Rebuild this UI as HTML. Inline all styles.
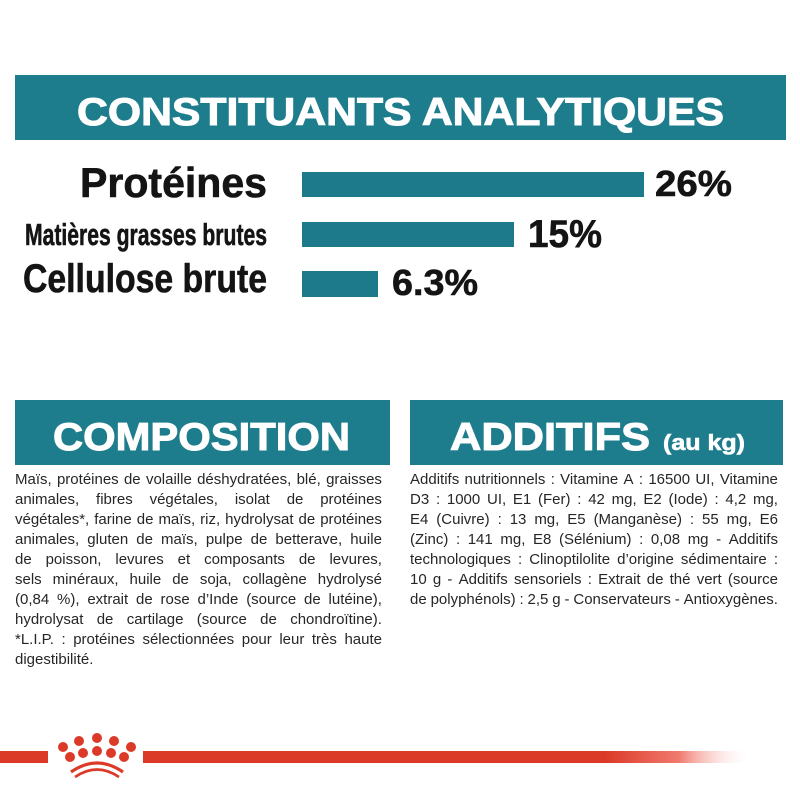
<!DOCTYPE html>
<html>
<head>
<meta charset="utf-8">
<style>
html,body{margin:0;padding:0;background:#fff;}
#wrap{position:relative;width:800px;height:800px;overflow:hidden;background:#fff;}
svg{position:absolute;left:0;top:0;}
.txt{position:absolute;font-family:"Liberation Sans",sans-serif;font-size:15px;line-height:20px;color:#262626;}
.l{display:flex;justify-content:space-between;white-space:nowrap;height:20px;}
.l.left{justify-content:flex-start;}
</style>
</head>
<body>
<div id="wrap">
<svg width="800" height="800" viewBox="0 0 800 800" xmlns="http://www.w3.org/2000/svg">
  <defs>
    <linearGradient id="fade" x1="143" y1="0" x2="752" y2="0" gradientUnits="userSpaceOnUse">
      <stop offset="0" stop-color="#dc3a28"/>
      <stop offset="0.76" stop-color="#dc3a28"/>
      <stop offset="0.88" stop-color="#f07a6e"/>
      <stop offset="1" stop-color="#ffffff" stop-opacity="0"/>
    </linearGradient>
  </defs>
  <!-- top banner -->
  <rect x="15" y="75" width="771" height="65" fill="#1e7d8c"/>
  <text x="77" y="125" font-family="Liberation Sans, sans-serif" font-weight="bold" font-size="39" fill="#fff" stroke="#fff" stroke-width="1" textLength="647" lengthAdjust="spacingAndGlyphs">CONSTITUANTS ANALYTIQUES</text>

  <!-- bars -->
  <rect x="302" y="172" width="342" height="25" fill="#1c7a8b"/>
  <rect x="302" y="222" width="212" height="25" fill="#1c7a8b"/>
  <rect x="302" y="271" width="76" height="26" fill="#1c7a8b"/>

  <!-- labels -->
  <g font-family="Liberation Sans, sans-serif" font-weight="bold" fill="#141414" stroke="#141414" stroke-width="0.6">
    <text x="80" y="197" font-size="42" textLength="187" lengthAdjust="spacingAndGlyphs">Protéines</text>
    <text x="25" y="245" font-size="31" textLength="242" lengthAdjust="spacingAndGlyphs">Matières grasses brutes</text>
    <text x="23" y="292" font-size="40" textLength="244" lengthAdjust="spacingAndGlyphs">Cellulose brute</text>
    <text x="655" y="196" font-size="36" textLength="77" lengthAdjust="spacingAndGlyphs">26%</text>
    <text x="528" y="247" font-size="39" textLength="74" lengthAdjust="spacingAndGlyphs">15%</text>
    <text x="392" y="295" font-size="36" textLength="86" lengthAdjust="spacingAndGlyphs">6.3%</text>
  </g>

  <!-- section banners -->
  <rect x="15" y="400" width="375" height="65" fill="#1e7d8c"/>
  <text x="53" y="450" font-family="Liberation Sans, sans-serif" font-weight="bold" font-size="39" fill="#fff" stroke="#fff" stroke-width="1" textLength="297" lengthAdjust="spacingAndGlyphs">COMPOSITION</text>
  <rect x="410" y="400" width="373" height="65" fill="#1e7d8c"/>
  <text x="450" y="450" font-family="Liberation Sans, sans-serif" font-weight="bold" font-size="39" fill="#fff" stroke="#fff" stroke-width="1" textLength="200" lengthAdjust="spacingAndGlyphs">ADDITIFS</text>
  <text x="663" y="450" font-family="Liberation Sans, sans-serif" font-weight="bold" font-size="22" fill="#fff" stroke="#fff" stroke-width="0.6" textLength="82" lengthAdjust="spacingAndGlyphs">(au kg)</text>

  <!-- bottom red line + crown -->
  <rect x="0" y="751" width="48" height="12" fill="#dc3a28"/>
  <rect x="143" y="751" width="609" height="12" fill="url(#fade)"/>
  <g fill="#dc3a28">
    <circle cx="63" cy="747" r="5"/>
    <circle cx="79" cy="741" r="5"/>
    <circle cx="97" cy="738" r="5"/>
    <circle cx="114" cy="741" r="5"/>
    <circle cx="131" cy="747" r="5"/>
    <circle cx="70" cy="757" r="5"/>
    <circle cx="83" cy="753" r="5"/>
    <circle cx="97" cy="751" r="5"/>
    <circle cx="111" cy="753" r="5"/>
    <circle cx="124" cy="757" r="5"/>
  </g>
  <path d="M71 772 Q97 754 123 772" fill="none" stroke="#dc3a28" stroke-width="3.2"/>
  <path d="M75 777 Q97 762 119 777" fill="none" stroke="#dc3a28" stroke-width="2.6"/>
</svg>

<!-- composition text -->
<div class="txt" style="left:15px;top:470px;width:367px;">
  <div class="l"><span>Maïs,</span><span>protéines</span><span>de</span><span>volaille</span><span>déshydratées,</span><span>blé,</span><span>graisses</span></div>
  <div class="l"><span>animales,</span><span>fibres</span><span>végétales,</span><span>isolat</span><span>de</span><span>protéines</span></div>
  <div class="l"><span>végétales*,</span><span>farine</span><span>de</span><span>maïs,</span><span>riz,</span><span>hydrolysat</span><span>de</span><span>protéines</span></div>
  <div class="l"><span>animales,</span><span>gluten</span><span>de</span><span>maïs,</span><span>pulpe</span><span>de</span><span>betterave,</span><span>huile</span></div>
  <div class="l"><span>de</span><span>poisson,</span><span>levures</span><span>et</span><span>composants</span><span>de</span><span>levures,</span></div>
  <div class="l"><span>sels</span><span>minéraux,</span><span>huile</span><span>de</span><span>soja,</span><span>collagène</span><span>hydrolysé</span></div>
  <div class="l"><span>(0,84</span><span>%),</span><span>extrait</span><span>de</span><span>rose</span><span>d’Inde</span><span>(source</span><span>de</span><span>lutéine),</span></div>
  <div class="l"><span>hydrolysat</span><span>de</span><span>cartilage</span><span>(source</span><span>de</span><span>chondroïtine).</span></div>
  <div class="l"><span>*L.I.P.</span><span>:</span><span>protéines</span><span>sélectionnées</span><span>pour</span><span>leur</span><span>très</span><span>haute</span></div>
  <div class="l left"><span>digestibilité.</span></div>
</div>

<!-- additifs text -->
<div class="txt" style="left:410px;top:470px;width:368px;">
  <div class="l"><span>Additifs</span><span>nutritionnels</span><span>:</span><span>Vitamine</span><span>A</span><span>:</span><span>16500</span><span>UI,</span><span>Vitamine</span></div>
  <div class="l"><span>D3</span><span>:</span><span>1000</span><span>UI,</span><span>E1</span><span>(Fer)</span><span>:</span><span>42</span><span>mg,</span><span>E2</span><span>(Iode)</span><span>:</span><span>4,2</span><span>mg,</span></div>
  <div class="l"><span>E4</span><span>(Cuivre)</span><span>:</span><span>13</span><span>mg,</span><span>E5</span><span>(Manganèse)</span><span>:</span><span>55</span><span>mg,</span><span>E6</span></div>
  <div class="l"><span>(Zinc)</span><span>:</span><span>141</span><span>mg,</span><span>E8</span><span>(Sélénium)</span><span>:</span><span>0,08</span><span>mg</span><span>-</span><span>Additifs</span></div>
  <div class="l"><span>technologiques</span><span>:</span><span>Clinoptilolite</span><span>d’origine</span><span>sédimentaire</span><span>:</span></div>
  <div class="l"><span>10</span><span>g</span><span>-</span><span>Additifs</span><span>sensoriels</span><span>:</span><span>Extrait</span><span>de</span><span>thé</span><span>vert</span><span>(source</span></div>
  <div class="l"><span>de</span><span>polyphénols)</span><span>:</span><span>2,5</span><span>g</span><span>-</span><span>Conservateurs</span><span>-</span><span>Antioxygènes.</span></div>
</div>
</div>
</body>
</html>
